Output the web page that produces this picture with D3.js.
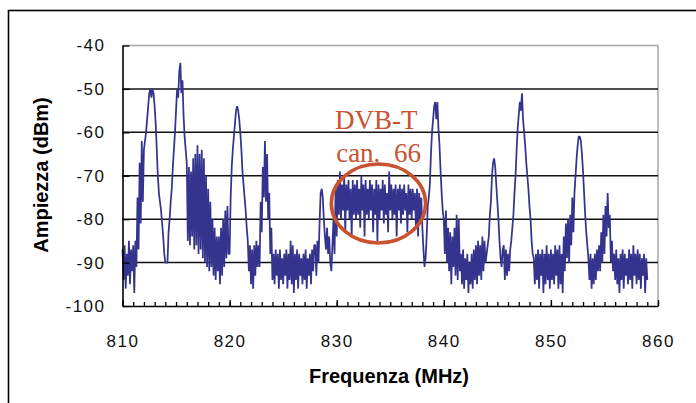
<!DOCTYPE html>
<html>
<head>
<meta charset="utf-8">
<script src="https://cdnjs.cloudflare.com/ajax/libs/d3/7.8.5/d3.min.js"></script>
<style>
body { margin: 0; background: #fff; }
svg text { font-family: "Liberation Sans", Arial, sans-serif; }
</style>
</head>
<body>
<svg width="696" height="403"></svg>
<script>
// spectrum sweep: one reading every 0.1 MHz starting at 810 MHz (dBm)
var startFreq = 810;
var stepFreq = 0.1;
var ampl = [
	-87, -94, -86, -96, -88, -93, -85, -95, -87, -92,   // 810
	-86, -97, -85, -91, -75, -87, -67, -81, -62, -76,   // 811
	-64, -62, -60, -57, -54, -51, -50, -52, -50, -51,   // 812
	-54, -58, -64, -70, -74, -76, -78, -81, -84, -88,   // 813
	-90, -90, -90, -83, -80, -76, -73, -68, -64, -60,   // 814
	-55, -50, -52, -46, -44, -51, -48, -56, -61, -64,   // 815
	-67, -85, -68, -86, -69, -84, -66, -87, -65, -86,   // 816
	-63, -88, -65, -87, -64, -89, -66, -90, -70, -91,   // 817
	-73, -92, -76, -91, -80, -93, -82, -94, -84, -92,   // 818
	-84, -95, -82, -93, -80, -91, -78, -89, -77, -88,   // 819
	-88, -75, -68, -64, -61, -58, -55, -54, -55, -57,   // 820
	-60, -64, -69, -72, -75, -78, -82, -85, -92, -86,   // 821
	-95, -87, -96, -86, -93, -85, -91, -86, -91, -76,   // 822
	-83, -68, -75, -62, -76, -65, -80, -74, -88, -82,   // 823
	-94, -88, -95, -87, -93, -88, -96, -87, -94, -89,   // 824
	-95, -88, -93, -87, -96, -88, -94, -85, -95, -86,   // 825
	-97, -88, -94, -87, -96, -88, -93, -89, -95, -88,   // 826
	-94, -87, -96, -89, -93, -88, -95, -87, -92, -86,   // 827
	-86, -93, -85, -90, -81, -74, -73, -75, -80, -84,   // 828
	-87, -82, -88, -84, -90, -92, -86, -80, -88, -72,   // 829
	-84, -71, -79, -69, -80, -72, -78, -70, -83, -72,   // 830
	-78, -71, -80, -73, -84, -71, -79, -72, -80, -71,   // 831
	-79, -73, -82, -70, -78, -72, -84, -71, -79, -73,   // 832
	-80, -71, -78, -72, -83, -73, -79, -71, -85, -72,   // 833
	-80, -73, -78, -71, -81, -72, -79, -74, -83, -69,   // 834
	-78, -72, -80, -73, -79, -72, -84, -73, -78, -72,   // 835
	-81, -73, -79, -72, -78, -74, -83, -72, -79, -73,   // 836
	-80, -73, -78, -74, -82, -73, -84, -74, -80, -75,   // 837
	-82, -87, -91, -89, -84, -77, -75, -72, -65, -60,   // 838
	-57, -54, -53, -57, -53, -59, -63, -69, -74, -78,   // 839
	-80, -88, -78, -90, -82, -92, -83, -95, -84, -91,   // 840
	-82, -93, -79, -94, -80, -92, -88, -95, -87, -96,   // 841
	-89, -94, -88, -97, -90, -95, -88, -96, -87, -94,   // 842
	-86, -95, -85, -93, -86, -94, -84, -92, -85, -90,   // 843
	-88, -86, -84, -79, -76, -70, -67, -66, -68, -72,   // 844
	-76, -80, -85, -89, -91, -87, -86, -94, -87, -93,   // 845
	-88, -92, -87, -85, -82, -79, -74, -70, -64, -59,   // 846
	-56, -53, -55, -51, -57, -60, -63, -67, -70, -73,   // 847
	-77, -80, -85, -88, -89, -95, -88, -94, -87, -96,   // 848
	-88, -93, -87, -97, -88, -95, -86, -94, -88, -96,   // 849
	-87, -94, -88, -95, -86, -93, -87, -96, -86, -95,   // 850
	-88, -97, -84, -92, -81, -89, -80, -90, -79, -86,   // 851
	-75, -83, -74, -70, -66, -63, -61, -61, -62, -65,   // 852
	-69, -74, -79, -83, -86, -89, -94, -88, -96, -89,   // 853
	-95, -88, -94, -87, -92, -86, -92, -83, -90, -79,   // 854
	-88, -77, -84, -74, -82, -79, -90, -85, -92, -88,   // 855
	-94, -87, -95, -89, -97, -88, -94, -87, -96, -88,   // 856
	-93, -89, -95, -87, -94, -88, -96, -86, -93, -88,   // 857
	-95, -87, -94, -88, -96, -89, -93, -88, -97, -89,   // 858
	-94                                                 // 859
];

var xTicks = [810, 820, 830, 840, 850, 860];
var xMinorTicks = d3.range(810, 861, 1);
var yTicks = [-100, -90, -80, -70, -60, -50, -40];
var gridValues = [-90, -80, -70, -60, -50];

var xTitle = "Frequenza (MHz)";
var yTitle = "Ampiezza (dBm)";
var noteTitle = "DVB-T";
var noteSub = ["can.", "66"];

var svg = d3.select("svg");
var x = d3.scaleLinear().domain([810, 860]).range([122.5, 658]);
var y = d3.scaleLinear().domain([-100, -40]).range([306, 45.5]);

var data = ampl.map(function(v, i) {
	return { f: startFreq + i * stepFreq, v: v };
});

// outer frame (runs past the right / bottom edge of the picture)
svg.append("rect")
	.attr("x", 8.5).attr("y", 10.5)
	.attr("width", 720).attr("height", 420)
	.attr("fill", "none")
	.attr("stroke", "#000")
	.attr("stroke-width", 1.6);

// plot area border, top and right in grey
svg.append("path")
	.attr("d", "M" + x(810) + "," + y(-40) + "H" + x(860) + "V" + y(-100))
	.attr("fill", "none")
	.attr("stroke", "#a8a8a8")
	.attr("stroke-width", 1.5);

// gridlines
svg.selectAll(".grid").data(gridValues).enter().append("line")
	.attr("class", "grid")
	.attr("x1", x(810)).attr("x2", x(860))
	.attr("y1", function(d) { return y(d); })
	.attr("y2", function(d) { return y(d); })
	.attr("stroke", "#111")
	.attr("stroke-width", 1.5);

// the trace
var line = d3.line()
	.x(function(d) { return x(d.f); })
	.y(function(d) { return y(d.v); });

svg.append("path")
	.datum(data)
	.attr("fill", "none")
	.attr("stroke", "#34348e")
	.attr("stroke-width", 1.75)
	.attr("stroke-linejoin", "bevel")
	.attr("d", line);

// x axis: minor ticks every MHz, labelled majors
var gx = svg.append("g").attr("transform", "translate(0," + y(-100) + ")");
gx.append("g")
	.call(d3.axisBottom(x).tickValues(xMinorTicks).tickSizeInner(-4).tickSizeOuter(0).tickFormat(""))
	.call(function(g) { g.select(".domain").remove(); });
gx.append("g")
	.call(d3.axisBottom(x).tickValues(xTicks).tickSizeInner(-6).tickSizeOuter(0).tickPadding(28.5).tickFormat(d3.format("d")));

// y axis
var gy = svg.append("g").attr("transform", "translate(" + x(810) + ",0)");
gy.call(d3.axisLeft(y).tickValues(yTicks).tickSizeInner(-7).tickSizeOuter(0).tickPadding(17)
	.tickFormat(function(d) { return String(d); }));

svg.selectAll(".tick line").attr("stroke", "#000").attr("stroke-width", 1.3);
svg.selectAll(".domain").attr("stroke", "#000").attr("stroke-width", 1.6);
svg.selectAll(".tick text")
	.attr("fill", "#111")
	.style("font-size", "17px")
	.style("letter-spacing", "1.5px");

// axis titles
svg.append("text")
	.attr("x", 389).attr("y", 382.5)
	.attr("text-anchor", "middle")
	.style("font-size", "20px")
	.style("font-weight", "bold")
	.text(xTitle);

svg.append("text")
	.attr("transform", "translate(48,175) rotate(-90)")
	.attr("text-anchor", "middle")
	.style("font-size", "20px")
	.style("font-weight", "bold")
	.text(yTitle);

// DVB-T annotation
var noteColor = "#c9532f";
svg.append("ellipse")
	.attr("cx", x(833.9)).attr("cy", y(-76.4))
	.attr("rx", x(833.9 + 4.4) - x(833.9))
	.attr("ry", y(-76.4 - 9.1) - y(-76.4))
	.attr("fill", "none")
	.attr("stroke", noteColor)
	.attr("stroke-width", 3.6);

svg.append("text")
	.attr("x", x(829.85)).attr("y", 128.5)
	.attr("fill", noteColor)
	.style("font-family", "'Liberation Serif', 'Times New Roman', serif")
	.style("font-size", "27px")
	.text(noteTitle);

var sub = svg.append("text")
	.attr("y", 162)
	.attr("fill", noteColor)
	.style("font-family", "'Liberation Serif', 'Times New Roman', serif")
	.style("font-size", "27px");
sub.append("tspan").attr("x", x(829.95)).text(noteSub[0]);
sub.append("tspan").attr("x", x(835.35)).text(noteSub[1]);
</script>
</body>
</html>
